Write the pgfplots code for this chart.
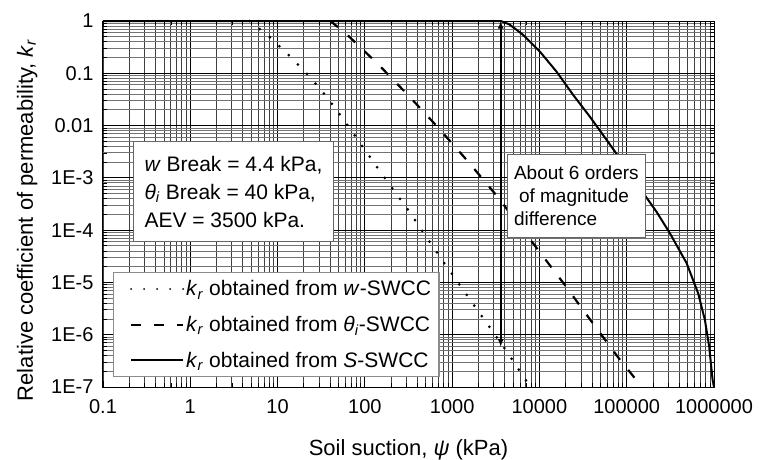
\documentclass[border=0pt]{standalone}
\usepackage{fontspec}
\setmainfont{Liberation Sans}
\usepackage{pgfplots}
\pgfplotsset{compat=1.18}

\begin{document}
\begin{tikzpicture}
\begin{axis}[
    scale only axis,
    width=611pt, height=366pt,
    xmode=log, ymode=log,
    xmin=0.1, xmax=1e6,
    ymin=1e-7, ymax=1,
    xtick={0.1,1,10,100,1000,10000,100000,1000000},
    xticklabels={0.1,1,10,100,1000,10000,100000,1000000},
    ytick={1e-7,1e-6,1e-5,1e-4,1e-3,0.01,0.1,1},
    yticklabels={1E-7,1E-6,1E-5,1E-4,1E-3,0.01,0.1,1},
    grid=both,
    major grid style={black, line width=1pt},
    minor x grid style={black!75, line width=0.9pt},
    minor y grid style={black!55, line width=0.9pt},
    axis line style={black, line width=1pt},
    tick style={black, line width=0.8pt},
    major tick length=6pt, minor tick length=4pt,
    ticklabel style={font=\fontsize{20}{24}\selectfont},
    xticklabel style={anchor=base, yshift=-26pt},
    yticklabel style={xshift=-6pt},
    xlabel={Soil suction, \textit{ψ} (kPa)},
    ylabel={Relative coefficient of permeability, \textit{k}\textsubscript{\textit{r}}},
    label style={font=\fontsize{22}{26}\selectfont},
    xlabel style={at={(axis description cs:0.5,-0.186)}, anchor=base},
    ylabel style={at={(axis description cs:-0.1015,0.456)}, anchor=south},
    clip=false,
    legend cell align=left,
    legend style={at={(rel axis cs:0.0164,0.314)}, anchor=north west,
        draw=black!45, line width=1.2pt, fill=white,
        font=\fontsize{21}{25}\selectfont,
        row sep=15pt, inner xsep=6pt, inner ysep=6pt},
    legend image code/.code={\path (0pt,0pt); \draw[#1, line width=2pt] (10pt,0pt) -- (62pt,0pt);},
]
% k_r from w-SWCC (dotted)
\addplot[black, line width=3pt, line cap=round, dash pattern=on 0pt off 13pt] coordinates {
(4.79,1) (8.69,0.447) (14.5,0.196) (23.5,0.0851) (38.1,0.0324) (59.6,0.01175)
(112,2.63e-3) (208,6.17e-4) (318,2.34e-4) (724,3.09e-5) (1671,4.27e-6)
(3917,5.75e-7) (7328,1.20e-7)};
\addlegendentry{\textit{k}\textsubscript{\textit{r}} obtained from \textit{w}-SWCC}
% k_r from theta-SWCC (dashed)
\addplot[black, line width=2.2pt, dash pattern=on 10pt off 13pt] coordinates {
(40,1) (57.7,0.624) (142,0.149) (314,0.038) (675,9.55e-3) (1489,2.14e-3)
(3236,4.57e-4) (9683,4.17e-5) (19590,8.9e-6) (39630,1.78e-6) (78700,3.8e-7)
(127000,1.4e-7)};
\addlegendentry{\textit{k}\textsubscript{\textit{r}} obtained from \textit{θ}\textsubscript{\textit{i}}-SWCC}
% k_r from S-SWCC (solid)
\addplot[black, line width=2pt] coordinates {
(0.1,1) (3600,1) (4500,0.865) (5400,0.69) (6516,0.54) (10140,0.259) (15740,0.107)
(24380,0.0385) (37840,0.0148) (58880,5.31e-3) (91200,1.91e-3) (141600,6.31e-4)
(219800,2.24e-4) (312600,8.71e-5) (485300,2.34e-5) (659200,6.17e-6)
(787000,1.91e-6) (881000,5.89e-7) (963000,1.38e-7) (1000000,1e-7)};
\addlegendentry{\textit{k}\textsubscript{\textit{r}} obtained from \textit{S}-SWCC}
% double arrow, about 6 orders of magnitude
\addplot[black, line width=1.6pt, <->, >=latex, forget plot] coordinates {(3600,1) (3600,5.9e-7)};

\node[draw=black!60, line width=1pt, fill=white, anchor=north west,
      inner sep=0pt, minimum width=200pt, minimum height=100pt,
      align=left, font=\fontsize{21}{28}\selectfont]
  at (rel axis cs:0.0491,0.672)
  {\textit{w} Break = 4.4 kPa,\\ \textit{θ}\textsubscript{\textit{i}} Break = 40 kPa,\\ AEV = 3500 kPa.};
\node[draw=black!60, line width=1pt, fill=white, anchor=north west,
      inner sep=0pt, minimum width=138pt, minimum height=83pt,
      align=left, font=\fontsize{19}{23}\selectfont]
  at (rel axis cs:0.661,0.637)
  {About 6 orders\\ \hspace*{5pt}of magnitude\\ difference};
\end{axis}
\pgfresetboundingbox
\path ([shift={(-103pt,-72pt)}]current axis.south west) rectangle ([shift={(656pt,387pt)}]current axis.south west);
\end{tikzpicture}
\end{document}
